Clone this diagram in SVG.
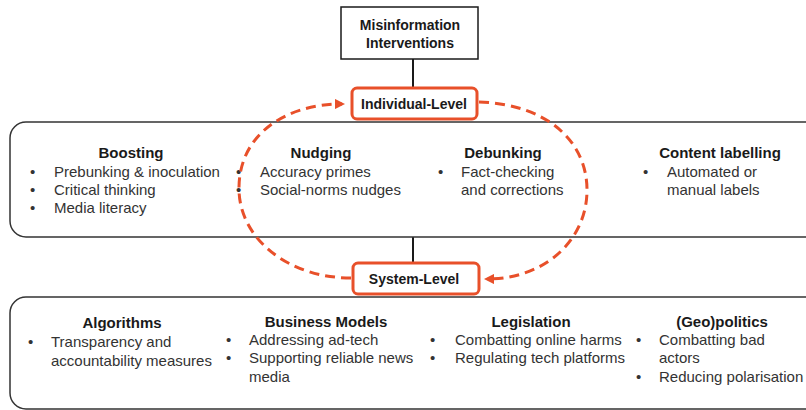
<svg xmlns="http://www.w3.org/2000/svg" width="806" height="410" viewBox="0 0 806 410">
<defs>
<style>
text{font-family:"Liberation Sans",Arial,sans-serif;font-size:15px;fill:#333}
.h{font-weight:bold;fill:#1a1a1a;text-anchor:middle}
.lvt{font-size:14px}
.bx{fill:#fff;stroke:#333;stroke-width:1.5}
.lv{fill:#fff;stroke:#e8502a;stroke-width:3}
.ln{stroke:#1a1a1a;stroke-width:2;fill:none}
.dash{fill:none;stroke:#e8502a;stroke-width:3;stroke-dasharray:10 6}
</style>
<marker id="ah" viewBox="0 0 10 10" refX="7" refY="5" markerWidth="3.5" markerHeight="3.5" orient="auto" markerUnits="strokeWidth">
<path d="M0,0 L10,5 L0,10 z" fill="#e8502a"/>
</marker>
</defs>
<g id="connectors">
<line class="ln" x1="413" y1="59" x2="413" y2="88"/>
<line class="ln" x1="413" y1="237" x2="413" y2="263"/>
</g>
<g id="individual-box">
<rect class="bx" x="10" y="122" width="810" height="115" rx="16"/>
<g id="boosting">
<text class="h" x="131" y="158">Boosting</text>
<text x="30" y="177">•</text><text x="54" y="177">Prebunking &amp; inoculation</text>
<text x="30" y="195">•</text><text x="54" y="195">Critical thinking</text>
<text x="30" y="213">•</text><text x="54" y="213">Media literacy</text>
</g>
<g id="nudging">
<text class="h" x="321" y="158">Nudging</text>
<text x="236" y="177">•</text><text x="260" y="177">Accuracy primes</text>
<text x="236" y="195">•</text><text x="260" y="195">Social-norms nudges</text>
</g>
<g id="debunking">
<text class="h" x="503" y="158">Debunking</text>
<text x="438" y="177">•</text><text x="461" y="177">Fact-checking</text>
<text x="461" y="195">and corrections</text>
</g>
<g id="content-labelling">
<text class="h" x="720" y="158">Content labelling</text>
<text x="643" y="177">•</text><text x="667" y="177">Automated or</text>
<text x="667" y="195">manual labels</text>
</g>
</g>
<g id="system-box">
<rect class="bx" x="10" y="297" width="810" height="112" rx="16"/>
<g id="algorithms">
<text class="h" x="122" y="328">Algorithms</text>
<text x="28" y="347">•</text><text x="51" y="347">Transparency and</text>
<text x="51" y="366">accountability measures</text>
</g>
<g id="business-models">
<text class="h" x="326" y="327">Business Models</text>
<text x="226" y="345">•</text><text x="249" y="345">Addressing ad-tech</text>
<text x="226" y="363">•</text><text x="249" y="363">Supporting reliable news</text>
<text x="249" y="382">media</text>
</g>
<g id="legislation">
<text class="h" x="531" y="327">Legislation</text>
<text x="430" y="345">•</text><text x="455" y="345">Combatting online harms</text>
<text x="430" y="363">•</text><text x="455" y="363">Regulating tech platforms</text>
</g>
<g id="geopolitics">
<text class="h" x="722" y="327">(Geo)politics</text>
<text x="636" y="345">•</text><text x="659" y="345">Combatting bad</text>
<text x="659" y="363">actors</text>
<text x="636" y="382">•</text><text x="659" y="382">Reducing polarisation</text>
</g>
</g>
<g id="loop">
<path class="dash" d="M351 278 C 290 278, 240 240, 239 190 C 238 135, 285 104, 342 104" marker-end="url(#ah)"/>
<path class="dash" d="M479 102 C 545 104, 587 140, 587 190 C 587 240, 545 279, 487 279" marker-end="url(#ah)"/>
</g>
<g id="top">
<rect x="341" y="7" width="137" height="52" fill="#fff" stroke="#1a1a1a" stroke-width="1.5"/>
<text class="h lvt" x="410" y="30">Misinformation</text>
<text class="h lvt" x="410" y="48">Interventions</text>
</g>
<g id="individual-level">
<rect class="lv" x="352" y="88" width="125" height="31" rx="5"/>
<text class="h lvt" x="414" y="109">Individual-Level</text>
</g>
<g id="system-level">
<rect class="lv" x="353" y="263" width="126" height="31" rx="5"/>
<text class="h lvt" x="414" y="284">System-Level</text>
</g>
</svg>
